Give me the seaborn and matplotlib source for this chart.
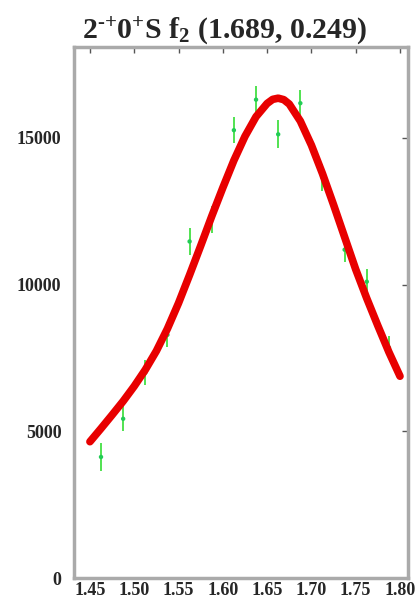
import matplotlib
matplotlib.use("Agg")
import matplotlib.pyplot as plt
import seaborn as sns
import numpy as np

# measured points (mass bins) with errors
mass = [1.4625, 1.4875, 1.5125, 1.5375, 1.5625, 1.5875, 1.6125,
        1.6375, 1.6625, 1.6875, 1.7125, 1.7375, 1.7625, 1.7875]
events = [4130, 5430, 7000, 8290, 11470, 12220, 15260,
          16300, 15120, 16180, 13650, 11190, 10100, 7850]
errors = [480, 430, 420, 420, 450, 450, 450,
          450, 480, 450, 450, 420, 420, 400]

# fitted curve
fit_x = [1.45, 1.4625, 1.475, 1.4875, 1.50, 1.5125, 1.525, 1.5375, 1.55,
         1.5625, 1.575, 1.5875, 1.60, 1.6125, 1.625, 1.6375, 1.65, 1.6563,
         1.6625, 1.6688, 1.675, 1.6875, 1.70, 1.7125, 1.725, 1.7375, 1.75,
         1.7625, 1.775, 1.7875, 1.80]
fit_y = [4650, 5100, 5560, 6030, 6540, 7100, 7740, 8500, 9370,
         10330, 11320, 12330, 13300, 14230, 15050, 15720, 16170, 16310,
         16350, 16300, 16150, 15570, 14750, 13780, 12720, 11620, 10520,
         9530, 8600, 7700, 6880]

title = r'2$^{\text{-+}}$0$^{+}$S f$_{2}$ (1.689, 0.249)'
xticks = [1.45, 1.50, 1.55, 1.60, 1.65, 1.70, 1.75, 1.80]
yticks = [0, 5000, 10000, 15000]

sns.set_style('white')
plt.rcParams['font.family'] = ['Liberation Serif', 'DejaVu Serif']
plt.rcParams['font.weight'] = 'bold'
plt.rcParams['mathtext.fontset'] = 'custom'
plt.rcParams['mathtext.bf'] = 'Liberation Serif:bold'
plt.rcParams['mathtext.rm'] = 'Liberation Serif:bold'
plt.rcParams['mathtext.default'] = 'rm'

fig = plt.figure(figsize=(4.18, 6.08), dpi=100)
ax = fig.add_axes([0.177, 0.049, 0.799, 0.874])

ax.errorbar(mass, events, yerr=errors, fmt='none', ecolor='#33dd33',
            elinewidth=1.2, capsize=0, zorder=2)
sns.scatterplot(x=mass, y=events, ax=ax, color='#22cc55', s=10,
                edgecolor='none', zorder=3)
sns.lineplot(x=fit_x, y=fit_y, ax=ax, color='#e80000', linewidth=5.5,
             sort=False, zorder=4)

ax.set_xlim(1.432, 1.809)
ax.set_ylim(0, 18100)
ax.set_xticks(xticks)
ax.set_xticklabels([f'{t:.2f}' for t in xticks])
ax.set_yticks(yticks)
ax.set_yticklabels([str(t) for t in yticks])
ax.tick_params(direction='in', length=4, width=1, color='#555555',
               top=True, right=True, labelsize=13, pad=3)
ax.tick_params(axis='y', pad=9)
for lab in ax.get_xticklabels() + ax.get_yticklabels():
    lab.set_fontweight('bold')
for sp in ax.spines.values():
    sp.set_color('#aaaaaa')
    sp.set_linewidth(2.5)

ax.set_title(title, fontsize=21.5, fontweight='bold', pad=6, x=0.452)

fig.savefig('out.png', dpi=100)
